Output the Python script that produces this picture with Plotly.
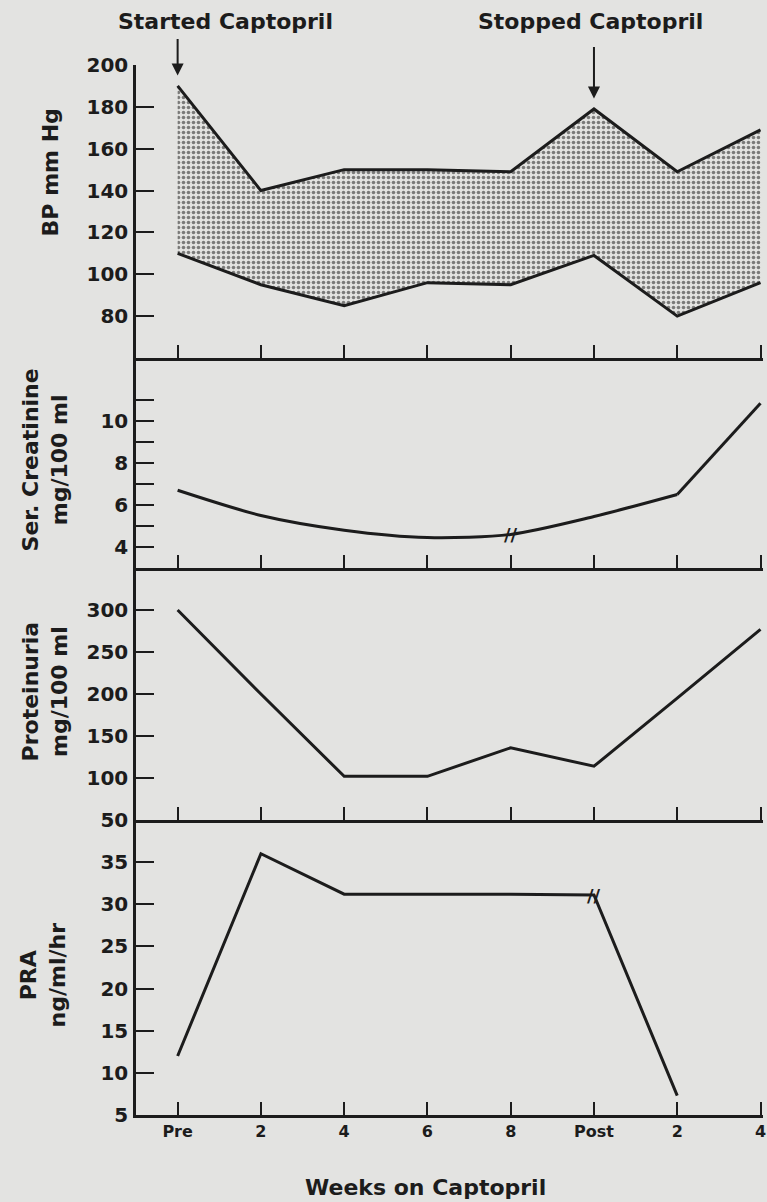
import plotly.graph_objects as go

# ---------------- data ----------------
x_labels = ["Pre", "2", "4", "6", "8", "Post", "2", "4"]
bp_systolic = [190, 140, 150, 150, 149, 179, 149, 169]
bp_diastolic = [110, 95, 85, 96, 95, 109, 80, 96]
creatinine = [6.7, 5.5, 4.8, 4.45, 4.6, 5.45, 6.5, 10.85]
proteinuria = [300, 200, 102, 102, 136, 114, 195, 277]
pra = [12, 36, 31.2, 31.2, 31.2, 31.1, 7.3, None]

bp_ticks = [80, 100, 120, 140, 160, 180, 200]
creat_ticks = [4, 5, 6, 7, 8, 9, 10, 11]
creat_ticktext = ["4", "", "6", "", "8", "", "10", ""]
prot_ticks = [50, 100, 150, 200, 250, 300]
pra_ticks = [5, 10, 15, 20, 25, 30, 35]

x = list(range(len(x_labels)))

BG = "#e3e3e1"
INK = "#1c1c1c"
FONT = "DejaVu Sans"

fig = go.Figure()

# Panel 1: BP band
fig.add_trace(go.Scatter(x=x, y=bp_diastolic, mode="lines", line=dict(color=INK, width=3),
                         xaxis="x", yaxis="y", showlegend=False))
fig.add_trace(go.Scatter(x=x, y=bp_systolic, mode="lines", line=dict(color=INK, width=3),
                         fill="tonexty", fillcolor=BG,
                         fillpattern=dict(shape=".", fgcolor="#111111", bgcolor=BG, size=5, solidity=0.4),
                         xaxis="x", yaxis="y", showlegend=False))

# Panel 2: creatinine (smooth through post-2, then straight)
fig.add_trace(go.Scatter(x=x[:7], y=creatinine[:7], mode="lines",
                         line=dict(color=INK, width=3, shape="spline", smoothing=0.8),
                         xaxis="x2", yaxis="y2", showlegend=False))
fig.add_trace(go.Scatter(x=x[6:], y=creatinine[6:], mode="lines",
                         line=dict(color=INK, width=3),
                         xaxis="x2", yaxis="y2", showlegend=False))

# Panel 3: proteinuria
fig.add_trace(go.Scatter(x=x, y=proteinuria, mode="lines", line=dict(color=INK, width=3),
                         xaxis="x3", yaxis="y3", showlegend=False))

# Panel 4: PRA
fig.add_trace(go.Scatter(x=x, y=pra, mode="lines", line=dict(color=INK, width=3),
                         xaxis="x4", yaxis="y4", showlegend=False))

# ---------------- layout ----------------
W, H = 767, 1202
ml, mr, mt, mb = 136, 1, 65, 87
plot_h = H - mt - mb
def py(px):  # pixel from top -> paper fraction
    return (H - mb - px) / plot_h
def pxx(px):
    return (px - ml) / (W - ml - mr)

bounds = [65, 358, 568, 820, 1115]
domains = [[py(bounds[i + 1]), py(bounds[i])] for i in range(4)]
domains[0][1] = 1.0
domains[3][0] = 0.0

tickfont = dict(family=FONT, size=20, color=INK, weight="bold")

yspecs = [
    dict(range=[60, 200], tickvals=bp_ticks, ticktext=[str(v) for v in bp_ticks]),
    dict(range=[3, 13], tickvals=creat_ticks, ticktext=creat_ticktext),
    dict(range=[50, 350], tickvals=prot_ticks, ticktext=[str(v) for v in prot_ticks]),
    dict(range=[5, 40], tickvals=pra_ticks, ticktext=[str(v) for v in pra_ticks]),
]

layout = dict(
    width=W, height=H,
    margin=dict(l=ml, r=mr, t=mt, b=mb),
    paper_bgcolor=BG, plot_bgcolor=BG,
    showlegend=False,
)

for i in range(4):
    n = "" if i == 0 else str(i + 1)
    layout["xaxis" + n] = dict(
        domain=[0, 1], anchor="y" + n, range=[-0.5, 7.03],
        showline=True, linecolor=INK, linewidth=2.5,
        ticks="inside", ticklen=13, tickwidth=2, tickcolor=INK,
        tickvals=x, ticktext=x_labels, showticklabels=(i == 3),
        ticklabeloverflow="allow",
        tickfont=dict(family=FONT, size=16, color=INK, weight="bold"),
        showgrid=False, zeroline=False, fixedrange=True,
    )
    layout["yaxis" + n] = dict(
        domain=domains[i], anchor="x" + n, range=yspecs[i]["range"],
        tickvals=yspecs[i]["tickvals"], ticktext=yspecs[i]["ticktext"],
        showline=True, linecolor=INK, linewidth=2.5,
        ticks="inside", ticklen=18, tickwidth=2, tickcolor=INK,
        tickfont=tickfont, ticklabelstandoff=1,
        showgrid=False, zeroline=False, fixedrange=True,
    )

fig.update_layout(**layout)

title_font = dict(family=FONT, size=22, color=INK, weight="bold")
ann = []
# Y-axis titles
ann.append(dict(text="BP mm Hg", x=pxx(50), y=py(172), xref="paper", yref="paper",
                textangle=-90, showarrow=False, font=title_font, xanchor="center", yanchor="middle"))
ann.append(dict(text="Ser. Creatinine<br>mg/100 ml", x=pxx(45), y=py(460), xref="paper", yref="paper",
                textangle=-90, showarrow=False, font=title_font, xanchor="center", yanchor="middle"))
ann.append(dict(text="Proteinuria<br>mg/100 ml", x=pxx(45), y=py(691), xref="paper", yref="paper",
                textangle=-90, showarrow=False, font=title_font, xanchor="center", yanchor="middle"))
ann.append(dict(text="PRA<br>ng/ml/hr", x=pxx(43), y=py(975), xref="paper", yref="paper",
                textangle=-90, showarrow=False, font=title_font, xanchor="center", yanchor="middle"))
# X-axis title
ann.append(dict(text="Weeks on Captopril", x=pxx(427), y=py(1187), xref="paper", yref="paper",
                showarrow=False, font=title_font, xanchor="center", yanchor="middle"))
# Top labels
ann.append(dict(text="Started Captopril", x=pxx(226), y=py(21), xref="paper", yref="paper",
                showarrow=False, font=title_font, xanchor="center", yanchor="middle"))
ann.append(dict(text="Stopped Captopril", x=pxx(593), y=py(21), xref="paper", yref="paper",
                showarrow=False, font=title_font, xanchor="center", yanchor="middle"))
# Arrows
start_i, stop_i = 0, x_labels.index("Post")
ann.append(dict(x=x[start_i], y=bp_systolic[start_i] + 5, xref="x", yref="y", text="",
                showarrow=True, arrowhead=2, arrowsize=1.2, arrowwidth=2, arrowcolor=INK,
                ax=0, ay=-38))
ann.append(dict(x=x[stop_i], y=bp_systolic[stop_i] + 5, xref="x", yref="y", text="",
                showarrow=True, arrowhead=2, arrowsize=1.2, arrowwidth=2, arrowcolor=INK,
                ax=0, ay=-53))
# Break marks
brk_font = dict(family=FONT, size=18, color=INK, weight="bold")
ann.append(dict(text="//", x=x[4], y=creatinine[4], xref="x2", yref="y2", showarrow=False,
                font=brk_font, xanchor="center", yanchor="middle"))
ann.append(dict(text="//", x=x[stop_i], y=pra[stop_i], xref="x4", yref="y4", showarrow=False,
                font=brk_font, xanchor="center", yanchor="middle"))

fig.update_layout(annotations=ann)

fig.write_html("out.html", config={"displayModeBar": False},
               post_script="document.body.style.margin='0px';document.body.style.overflow='hidden';")
